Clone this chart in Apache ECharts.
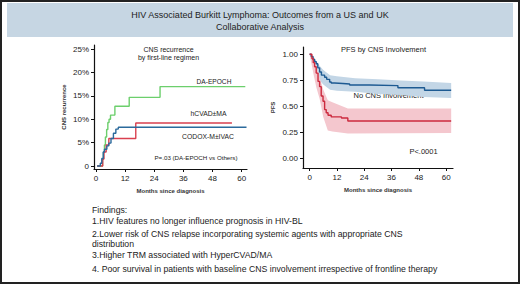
<!DOCTYPE html>
<html><head><meta charset="utf-8">
<script src="https://cdn.jsdelivr.net/npm/echarts@6/dist/echarts.min.js"></script>
<style>html,body{margin:0;padding:0;background:#fff}#c{width:520px;height:284px}</style>
</head><body><div id="c"></div>
<script>
// ---- Left panel: CNS recurrence (%) by first-line regimen ----
const leftTicksX = [0, 12, 24, 36, 48, 60];
const leftTicksY = [0, 5, 10, 15, 20, 25];
const daEpochT = [0.5, 2.7, 3.1, 3.5, 3.9, 4.4, 4.9, 5.4, 6.0, 7.8, 13.7, 26.4, 61.5];
const daEpochV = [0, 1.5, 3.0, 4.5, 6.2, 7.8, 9.3, 10.0, 10.9, 12.8, 14.7, 17.0, 17.0];
const hcvadT = [0.5, 2.8, 3.3, 4.2, 5.3, 16.4, 56];
const hcvadV = [0, 1.5, 3.0, 4.5, 5.9, 9.2, 9.2];
const codoxT = [0.5, 1.8, 2.4, 3.0, 3.5, 4.5, 5.3, 6.2, 7.2, 8.2, 9.2, 62];
const codoxV = [0, 0.6, 1.6, 3.0, 3.6, 4.3, 4.9, 5.9, 7.0, 7.9, 8.3, 8.3];

// ---- Right panel: PFS by CNS involvement ----
const rightTicksX = [0, 12, 24, 36, 48, 60];
const rightTicksY = [0, 0.25, 0.5, 0.75, 1.0];
const noCnsT = [0, 0.7, 1.5, 2.2, 2.9, 3.6, 4.4, 5.2, 6.6, 7.5, 8.8, 9.5, 11, 14.6, 17.6, 26.3, 38.8, 50.5, 62.2];
const noCnsV = [1.0, 0.98, 0.95, 0.93, 0.91, 0.87, 0.83, 0.80, 0.78, 0.76, 0.735, 0.725, 0.72, 0.715, 0.705, 0.70, 0.68, 0.655, 0.655];
const noCnsBandT = [0, 2, 4, 6, 9, 12, 20, 30, 40, 50, 62.2];
const noCnsBandLo = [1.0, 0.84, 0.76, 0.71, 0.66, 0.65, 0.64, 0.62, 0.61, 0.59, 0.58];
const noCnsBandHi = [1.0, 0.97, 0.90, 0.85, 0.80, 0.79, 0.77, 0.76, 0.75, 0.74, 0.725];
const cnsT = [0, 1.0, 1.6, 2.2, 2.9, 3.7, 4.4, 5.1, 5.9, 6.6, 7.3, 8.1, 9.5, 14.0, 16.8, 62.2];
const cnsV = [1.0, 0.96, 0.92, 0.88, 0.82, 0.74, 0.69, 0.60, 0.55, 0.47, 0.44, 0.415, 0.40, 0.39, 0.36, 0.36];
const cnsBandT = [0, 2, 3, 4.4, 6, 8, 10, 16.8, 62.2];
const cnsBandLo = [1.0, 0.78, 0.68, 0.575, 0.40, 0.27, 0.26, 0.24, 0.245];
const cnsBandHi = [1.0, 0.95, 0.88, 0.78, 0.66, 0.56, 0.54, 0.48, 0.48];

// ---- Texts ----
const titleLines = ['HIV Associated Burkitt Lymphoma: Outcomes from a US and UK', 'Collaborative Analysis'];
const findings = [
  'Findings:',
  '1.HIV features no longer influence prognosis in HIV-BL',
  '2.Lower risk of CNS relapse incorporating systemic agents with appropriate CNS',
  'distribution',
  '3.Higher TRM associated with HyperCVAD/MA',
  '4. Poor survival in patients with baseline CNS involvement irrespective of frontline therapy'
];

const FONT = '"Liberation Sans", Arial, Helvetica, sans-serif';
const zip = (t, v) => t.map((x, i) => [x, v[i]]);

const axisCommon = {
  axisLine: { onZero: false, lineStyle: { color: '#111', width: 1.2 } },
  axisTick: { show: true, length: 3, lineStyle: { color: '#111', width: 1 } },
  splitLine: { show: false },
  axisLabel: { color: '#222', fontFamily: FONT, fontSize: 8 }
};
function xAxis(grid, min, max, ticks) {
  return Object.assign({}, axisCommon, {
    type: 'value', gridIndex: grid, min, max,
    axisTick: Object.assign({}, axisCommon.axisTick, { customValues: ticks }),
    axisLabel: Object.assign({}, axisCommon.axisLabel, { customValues: ticks, margin: 5 }),
    name: 'Months since diagnosis', nameLocation: 'middle', nameGap: 19,
    nameTextStyle: { fontFamily: FONT, fontSize: 6, fontWeight: 'bold', color: '#333' }
  });
}
function yAxis(grid, min, max, ticks, fmt, name, gap) {
  return Object.assign({}, axisCommon, {
    type: 'value', gridIndex: grid, min, max,
    axisTick: Object.assign({}, axisCommon.axisTick, { customValues: ticks }),
    axisLabel: Object.assign({}, axisCommon.axisLabel, { customValues: ticks, formatter: fmt, margin: 5 }),
    name, nameLocation: 'middle', nameGap: gap,
    nameTextStyle: { fontFamily: FONT, fontSize: 6, fontWeight: 'bold', color: '#333' }
  });
}
function km(name, xi, data, color, width) {
  return { name, type: 'line', xAxisIndex: xi, yAxisIndex: xi, step: 'end', data,
    symbol: 'none', lineStyle: { color, width: width || 1.4 }, silent: true, z: 5 };
}
function band(t, lo, hi, color) {
  return {
    type: 'custom', xAxisIndex: 1, yAxisIndex: 1, silent: true, z: 2,
    data: [[t[0], lo[0]]],
    renderItem: (params, api) => {
      const pts = t.map((x, i) => api.coord([x, hi[i]]));
      for (let i = t.length - 1; i >= 0; i--) pts.push(api.coord([t[i], lo[i]]));
      return { type: 'polygon', shape: { points: pts }, style: { fill: color } };
    }
  };
}
function txt(x, y, text, size, align, extra) {
  return { type: 'text', x, y, silent: true, style: Object.assign({ text, fontFamily: FONT, fontSize: size,
    fill: '#222', align: align || 'center', verticalAlign: 'middle' }, extra || {}) };
}

const chart = echarts.init(document.getElementById('c'), null, { renderer: 'svg' });
chart.setOption({
  animation: false,
  grid: [
    { left: 94, top: 45, width: 153, height: 124 },
    { left: 303, top: 47, width: 150, height: 121 }
  ],
  xAxis: [xAxis(0, -0.8, 62.2, leftTicksX), xAxis(1, -2.9, 63, rightTicksX)],
  yAxis: [
    yAxis(0, -0.64, 25.9, leftTicksY, v => v === 0 ? '0' : v + '%', 'CNS recurrence', 27),
    yAxis(1, -0.09, 1.07, rightTicksY, v => v.toFixed(2), 'PFS', 27)
  ],
  series: [
    km('DA-EPOCH', 0, zip(daEpochT, daEpochV), '#6ccf6c'),
    km('hCVAD±MA', 0, zip(hcvadT, hcvadV), '#d9404f'),
    km('CODOX-M±IVAC', 0, zip(codoxT, codoxV), '#2b6a9c'),
    band(noCnsBandT, noCnsBandLo, noCnsBandHi, '#c3d6e6'),
    band(cnsBandT, cnsBandLo, cnsBandHi, '#f4c7ce'),
    km('No CNS Involvement', 1, zip(noCnsT, noCnsV), '#1d5a92'),
    km('CNS Involvement', 1, zip(cnsT, cnsV), '#cc2a3e')
  ],
  graphic: [
    { type: 'rect', shape: { x: 1, y: 1, width: 518, height: 282 }, style: { fill: 'none', stroke: '#222', lineWidth: 2 }, silent: true },
    { type: 'rect', shape: { x: 7, y: 3, width: 506, height: 34 }, style: { fill: '#c6d6e3' }, silent: true },
    txt(260, 15, titleLines[0], 9),
    txt(260, 26.5, titleLines[1], 9),
    txt(168.5, 49.5, 'CNS recurrence', 7),
    txt(168.5, 57, 'by first-line regimen', 7),
    txt(214, 81, 'DA-EPOCH', 6.6),
    txt(208.5, 113.5, 'hCVAD±MA', 6.8),
    txt(208, 136, 'CODOX-M±IVAC', 6.8),
    txt(196, 157.5, 'P=.03 (DA-EPOCH vs Others)', 6.2),
    txt(383.5, 49.5, 'PFS by CNS Involvement', 7.5),
    txt(388.5, 95, 'No CNS Involvement', 7.5),
    txt(392, 128.5, 'CNS Involvement', 7.5),
    txt(423.5, 151.5, 'P<.0001', 7.5),
    ...findings.map((s, i) => txt(92, 209.5 + [0, 11.4, 24, 34, 45.7, 59][i], s, 8.7, 'left'))
  ]
});
</script></body></html>
